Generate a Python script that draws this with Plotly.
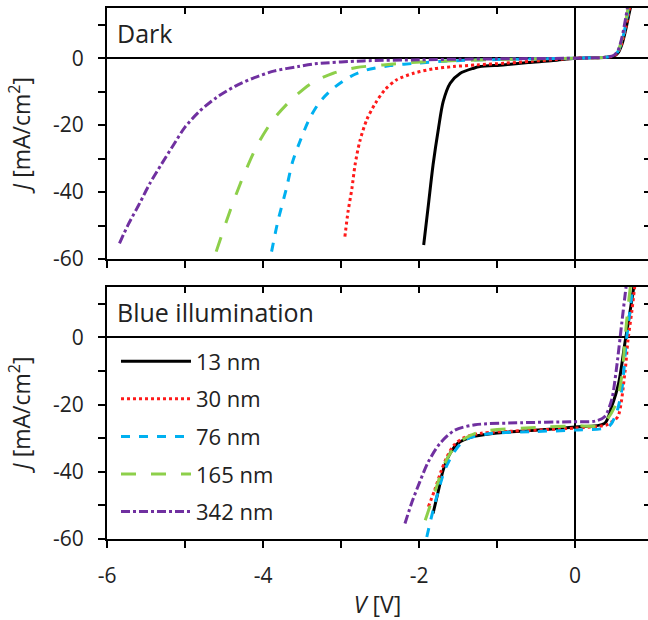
import plotly.graph_objects as go

# ---------------- data ----------------
names = ["13 nm", "30 nm", "76 nm", "165 nm", "342 nm"]
colors = ["#000000", "#ff1a1a", "#00b0f0", "#8dcf4a", "#7030a0"]
dashes = ["solid", "dot", "dash", "longdash", "dashdot"]

# Dark
dark_v_13 = [-1.94, -1.88, -1.82, -1.75, -1.69, -1.60, -1.47, -1.30, -1.22, -0.92, -0.6, -0.28, 0, 0.2, 0.4, 0.5, 0.55, 0.6, 0.65, 0.7, 0.74]
dark_j_13 = [-55.8, -43.9, -31.9, -20.9, -13, -7.5, -4.5, -3.0, -2.5, -2.0, -1.3, -0.7, 0, 0.1, 0.3, 0.6, 1.5, 4, 8.5, 14, 18]
dark_v_30 = [-2.95, -2.91, -2.86, -2.82, -2.76, -2.67, -2.56, -2.44, -2.29, -2.07, -1.82, -1.56, -1.26, -0.9, -0.55, -0.25, 0, 0.2, 0.4, 0.5, 0.55, 0.6, 0.65, 0.7, 0.74]
dark_j_30 = [-53.3, -45.9, -38.9, -31.9, -24.9, -18.4, -13.5, -9.5, -6.5, -4.5, -3.2, -2.5, -2.0, -1.5, -0.9, -0.4, 0, 0.1, 0.3, 0.7, 1.8, 4.5, 9, 15, 19]
dark_v_76 = [-3.89, -3.81, -3.70, -3.62, -3.51, -3.40, -3.27, -3.10, -2.88, -2.67, -2.37, -2.03, -1.6, -1.0, -0.5, 0, 0.2, 0.4, 0.5, 0.55, 0.6, 0.65, 0.7]
dark_j_76 = [-57.8, -48.8, -38.9, -30.9, -23.9, -17.9, -13, -9, -5.5, -3.5, -2.2, -1.5, -0.8, -0.4, -0.2, 0, 0.1, 0.3, 0.8, 2, 5, 10, 17]
dark_v_165 = [-4.60, -4.47, -4.34, -4.21, -4.06, -3.87, -3.64, -3.38, -3.10, -2.80, -2.46, -2.03, -1.5, -1.0, -0.5, 0, 0.2, 0.4, 0.5, 0.55, 0.6, 0.65, 0.7]
dark_j_165 = [-57.8, -48.8, -40.4, -32.9, -25.4, -18.4, -12.5, -7.5, -4.5, -2.8, -2.0, -1.2, -0.7, -0.4, -0.2, 0, 0.1, 0.3, 0.8, 2, 5.5, 11, 18]
dark_v_342 = [-5.84, -5.73, -5.58, -5.45, -5.30, -5.15, -5.00, -4.82, -4.60, -4.36, -4.11, -3.85, -3.55, -3.34, -2.72, -2.0, -1.5, -1.0, -0.5, 0, 0.2, 0.4, 0.5, 0.55, 0.6, 0.65, 0.7]
dark_j_342 = [-55.3, -49.8, -43.3, -37.4, -31.6, -26.0, -20.6, -16.0, -11.8, -8.4, -5.8, -3.8, -2.5, -1.7, -0.8, -0.5, -0.3, -0.2, -0.1, 0, 0.1, 0.3, 0.9, 2.2, 6, 12, 19]

# Blue illumination
blue_v_13 = [-1.82, -1.75, -1.69, -1.60, -1.50, -1.32, -1.03, -0.60, 0, 0.38, 0.47, 0.56, 0.64, 0.71, 0.76]
blue_j_13 = [-52.4, -45.5, -39.5, -34.5, -31.5, -29.6, -28.5, -27.8, -26.7, -25.6, -20.6, -13.6, -1.7, 8.3, 16]
blue_v_30 = [-1.88, -1.80, -1.72, -1.64, -1.55, -1.42, -1.2, -0.8, 0, 0.4, 0.48, 0.55, 0.64, 0.68, 0.73, 0.77]
blue_j_30 = [-50.4, -45.5, -40, -35.5, -32, -29.8, -28.5, -27.9, -27.0, -26.1, -25, -23.6, -10.5, -0.7, 8, 16]
blue_v_76 = [-1.90, -1.84, -1.75, -1.67, -1.56, -1.41, -1.11, -0.5, 0, 0.43, 0.53, 0.60, 0.66, 0.71, 0.75]
blue_j_76 = [-59.4, -53.4, -45.5, -39.5, -34.5, -30.5, -28.7, -28.0, -27.6, -26.6, -22.6, -15.6, -0.7, 9, 17]
blue_v_165 = [-1.92, -1.79, -1.67, -1.54, -1.41, -1.2, -0.38, 0, 0.34, 0.51, 0.60, 0.64, 0.68, 0.72]
blue_j_165 = [-54.4, -45.5, -37.5, -32.5, -30, -28, -26.7, -26.3, -26, -20.6, -11.6, -0.7, 9, 17]
blue_v_342 = [-2.18, -2.09, -1.99, -1.88, -1.73, -1.54, -1.28, -0.68, -0.04, 0.26, 0.38, 0.47, 0.53, 0.60, 0.64, 0.67]
blue_j_342 = [-55.4, -49, -43, -37, -31.5, -27.6, -26, -25.4, -25.1, -24.9, -23.6, -18.6, -9.6, 4.3, 12.2, 18]

dark_v = [dark_v_13, dark_v_30, dark_v_76, dark_v_165, dark_v_342]
dark_j = [dark_j_13, dark_j_30, dark_j_76, dark_j_165, dark_j_342]
blue_v = [blue_v_13, blue_v_30, blue_v_76, blue_v_165, blue_v_342]
blue_j = [blue_j_13, blue_j_30, blue_j_76, blue_j_165, blue_j_342]

x_range = [-6, 0.936]
y_range = [-60, 15]
x_tickvals = [-6, -4, -2, 0]
x_ticktext = ["-6", "-4", "-2", "0"]
y_tickvals = [-60, -40, -20, 0]
y_ticktext = ["-60", "-40", "-20", "0"]
panel_labels = ["Dark", "Blue illumination"]

FONT = "Open Sans"
TXT = "#222222"

fig = go.Figure()
for i in range(5):
    fig.add_trace(go.Scatter(
        x=dark_v[i], y=dark_j[i], mode="lines", xaxis="x", yaxis="y",
        line=dict(color=colors[i], dash=dashes[i], width=3, shape="spline", smoothing=0.8),
        showlegend=False, hoverinfo="skip"))
for i in range(5):
    fig.add_trace(go.Scatter(
        x=blue_v[i], y=blue_j[i], mode="lines", xaxis="x2", yaxis="y2",
        name=names[i], legendgroup=names[i],
        line=dict(color=colors[i], dash=dashes[i], width=3, shape="spline", smoothing=0.8),
        showlegend=True, hoverinfo="skip"))

# dummy traces to create mirror-tick axes
fig.add_trace(go.Scatter(x=[None], y=[None], xaxis="x3", yaxis="y3", showlegend=False))
fig.add_trace(go.Scatter(x=[None], y=[None], xaxis="x4", yaxis="y4", showlegend=False))

top_dom = [0.5273, 1.0]
bot_dom = [0.0, 0.4746]

def xmain(anchor, labels):
    return dict(range=x_range, domain=[0, 1], anchor=anchor,
                showline=True, linecolor="black", linewidth=2, mirror=True,
                ticks="outside", ticklen=7, tickwidth=2, tickcolor="black",
                tickmode="array", tickvals=x_tickvals, ticktext=x_ticktext,
                minor=dict(dtick=1, tick0=0, ticks="outside", ticklen=7, tickwidth=2, tickcolor="black"),
                showticklabels=labels, tickfont=dict(family=FONT, size=21, color=TXT),
                zeroline=True, zerolinecolor="black", zerolinewidth=2,
                showgrid=False, fixedrange=True, ticklabelstandoff=10)

def ymain(domain, anchor):
    return dict(range=y_range, domain=domain, anchor=anchor,
                showline=True, linecolor="black", linewidth=2, mirror=False,
                ticks="outside", ticklen=7, tickwidth=2, tickcolor="black",
                tickmode="array", tickvals=y_tickvals, ticktext=y_ticktext,
                minor=dict(dtick=10, tick0=0, ticks="outside", ticklen=7, tickwidth=2, tickcolor="black"),
                tickfont=dict(family=FONT, size=21, color=TXT),
                zeroline=True, zerolinecolor="black", zerolinewidth=2,
                showgrid=False, fixedrange=True, ticklabelstandoff=10,
                title=dict(text="<i>J</i> [mA/cm<sup>2</sup>]", font=dict(family=FONT, size=23, color=TXT), standoff=16))

def xmirror(over, anchor):
    return dict(range=x_range, overlaying=over, anchor=anchor, side="top",
                showline=False, ticks="inside", ticklen=6, tickwidth=2, tickcolor="black",
                dtick=1, tick0=0, showticklabels=False, zeroline=False, showgrid=False, fixedrange=True)

def ymirror(over, anchor):
    return dict(range=y_range, overlaying=over, anchor=anchor, side="right",
                showline=False, ticks="inside", ticklen=4, tickwidth=2, tickcolor="black",
                dtick=10, tick0=0, showticklabels=False, zeroline=False, showgrid=False, fixedrange=True)

fig.update_layout(
    width=648, height=620,
    margin=dict(l=107, r=0, t=8, b=81),
    paper_bgcolor="white", plot_bgcolor="white",
    font=dict(family=FONT, color=TXT),
    xaxis=xmain("y", False),
    yaxis=ymain(top_dom, "x"),
    xaxis2=xmain("y2", True),
    yaxis2=ymain(bot_dom, "x2"),
    xaxis3=xmirror("x", "y"),
    yaxis3=ymirror("y", "x"),
    xaxis4=xmirror("x2", "y2"),
    yaxis4=ymirror("y2", "x2"),
    legend=dict(x=0.0166, y=0.374, xanchor="left", yanchor="top",
                font=dict(family=FONT, size=22, color=TXT),
                bgcolor="rgba(0,0,0,0)", tracegroupgap=6, itemwidth=70),
    showlegend=True,
)
fig.layout.xaxis2.title = dict(text="<i>V</i> [V]", font=dict(family=FONT, size=23, color=TXT), standoff=14)

fig.add_annotation(text=panel_labels[0], xref="x domain", yref="y", x=0.015, y=7.5,
                   xanchor="left", yanchor="middle", showarrow=False,
                   font=dict(family=FONT, size=25, color=TXT))
fig.add_annotation(text=panel_labels[1], xref="x2 domain", yref="y2", x=0.015, y=7.5,
                   xanchor="left", yanchor="middle", showarrow=False,
                   font=dict(family=FONT, size=25, color=TXT))

fig.write_html("out.html")
